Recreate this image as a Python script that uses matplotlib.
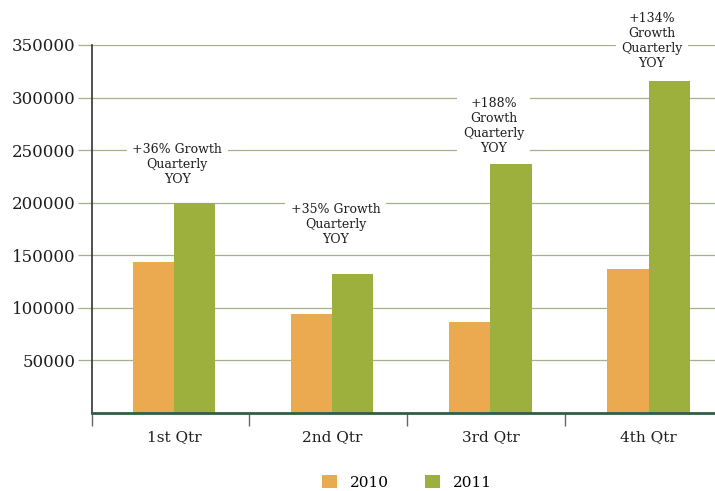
import numpy as np
import matplotlib.pyplot as plt

quarters = ["1st Qtr", "2nd Qtr", "3rd Qtr", "4th Qtr"]
sales_2010 = [144000, 94000, 87000, 137000]
sales_2011 = [200000, 132000, 237000, 316000]
growth_notes = [
    "+36% Growth\nQuarterly\nYOY",
    "+35% Growth\nQuarterly\nYOY",
    "+188%\nGrowth\nQuarterly\nYOY",
    "+134%\nGrowth\nQuarterly\nYOY",
]
note_offsets = [12, 20, 6, 8]  # points above the 2011 bar

orange = "#EBAA4F"
green = "#9DB03E"
grid_col = "#A3B088"

plt.rcParams["font.family"] = ["DejaVu Serif"]

fig = plt.figure(figsize=(7.15, 4.91), dpi=100)
ax = fig.add_axes([0.1287, 0.1589, 0.8713, 0.7495])

x = np.arange(len(quarters))
w = 0.26
ax.bar(x - w / 2, sales_2010, w, color=orange, label="2010", zorder=2)
ax.bar(x + w / 2, sales_2011, w, color=green, label="2011", zorder=2)

for xi, val, note, off in zip(x, sales_2011, growth_notes, note_offsets):
    ax.annotate(note, (xi + 0.02, val), xytext=(0, off), textcoords="offset points",
                ha="center", va="bottom", fontsize=9, linespacing=1.2,
                color="#1e1e1e", zorder=4,
                bbox=dict(facecolor="white", edgecolor="none", pad=4))

ax.set_xlim(-0.52, 3.42)
ax.set_ylim(0, 350000)
ax.set_yticks(np.arange(50000, 350001, 50000))
ax.yaxis.grid(True, color=grid_col, linewidth=0.9, zorder=1)
ax.set_axisbelow(True)
ax.tick_params(axis="y", length=10, width=0.9, color=grid_col, labelsize=12, pad=2,
               labelcolor="#1e1e1e")

ax.set_xticks(x)
ax.set_xticklabels(quarters, fontsize=11, color="#1e1e1e")
ax.set_xticks([-0.52, 0.47, 1.47, 2.47], minor=True)
ax.tick_params(axis="x", which="major", length=0, pad=12)
ax.tick_params(axis="x", which="minor", length=9, width=1, color="#666666")

for s in ["top", "right"]:
    ax.spines[s].set_visible(False)
ax.spines["left"].set_color("#333333")
ax.spines["left"].set_linewidth(1.2)
ax.spines["bottom"].set_color("#2F5E45")
ax.spines["bottom"].set_linewidth(2)

fig.legend(loc="center", bbox_to_anchor=(0.569, 0.018), ncol=2, frameon=False,
           fontsize=11, handlelength=1.0, handleheight=1.0, columnspacing=2.4,
           handletextpad=0.8)

fig.savefig("out.png", dpi=100)
